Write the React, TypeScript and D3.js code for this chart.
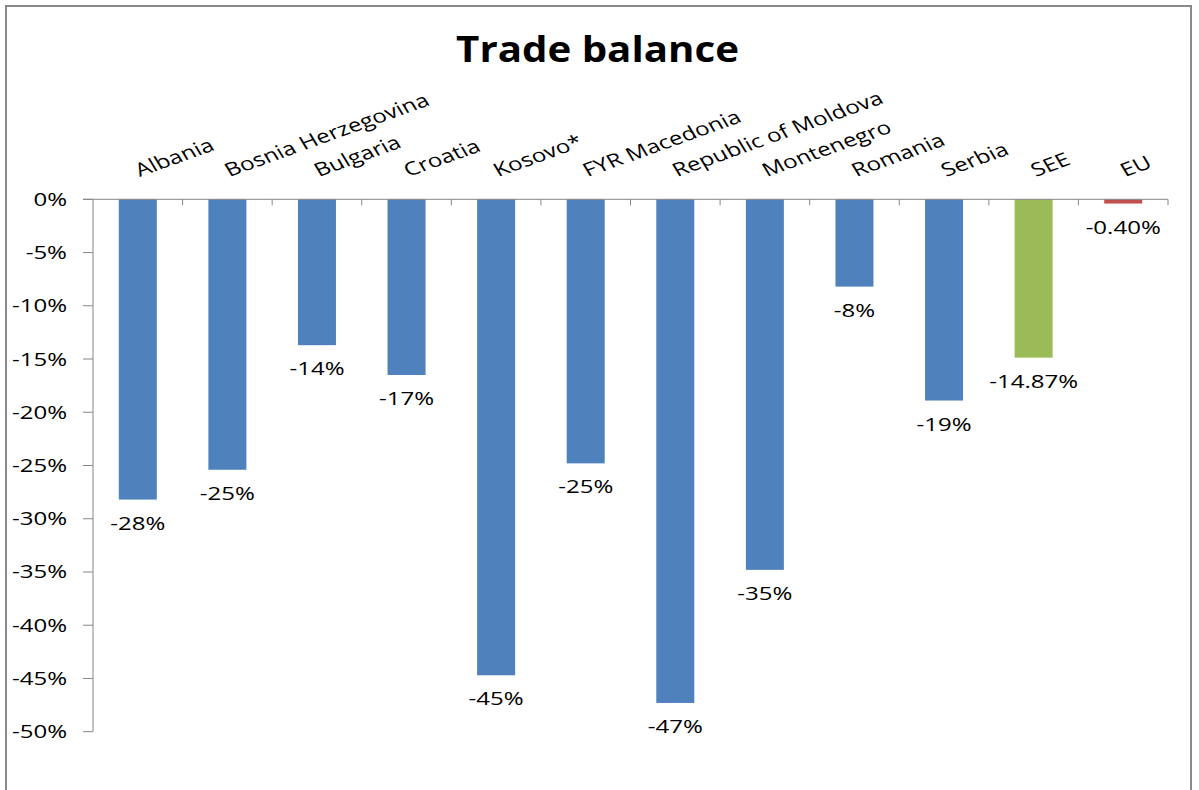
import { useEffect, useRef } from "react";
import * as d3 from "d3";

const countries = [
  "Albania", "Bosnia Herzegovina", "Bulgaria", "Croatia", "Kosovo*", "FYR Macedonia",
  "Republic of Moldova", "Montenegro", "Romania", "Serbia", "SEE", "EU",
];
const balance = [-28.2, -25.4, -13.7, -16.5, -44.7, -24.8, -47.3, -34.8, -8.2, -18.9, -14.87, -0.4];
const valueLabels = ["-28%", "-25%", "-14%", "-17%", "-45%", "-25%", "-47%", "-35%", "-8%", "-19%", "-14.87%", "-0.40%"];
const barColors = [
  "#4F81BD", "#4F81BD", "#4F81BD", "#4F81BD", "#4F81BD", "#4F81BD",
  "#4F81BD", "#4F81BD", "#4F81BD", "#4F81BD", "#9BBB59", "#C0504D",
];
const yTicks = [0, -5, -10, -15, -20, -25, -30, -35, -40, -45, -50];

const W = 1199;
const H = 790;
const FONT = "'Open Sans', sans-serif";
const SX = 1.3; // the picture is stretched sideways

export default function App() {
  const ref = useRef<SVGSVGElement | null>(null);

  useEffect(() => {
    if (!ref.current) return;
    const svg = d3.select(ref.current);
    svg.selectAll("*").remove();

    const left = 93;
    const right = 1168;
    const top = 199.3;
    const bottom = 731.7;

    const x = d3.scaleBand<string>().domain(countries).range([left, right]);
    const y = d3.scaleLinear().domain([0, -50]).range([top, bottom]);
    const barW = 38;

    // outer frame
    svg.append("rect")
      .attr("x", 6).attr("y", 6)
      .attr("width", 1185).attr("height", 800)
      .attr("fill", "#fff")
      .attr("stroke", "#898989")
      .attr("stroke-width", 2);

    svg.append("text")
      .attr("transform", `translate(${W / 2 - 2},62) scale(1.15,1)`)
      .attr("text-anchor", "middle")
      .attr("font-family", FONT)
      .attr("font-weight", 700)
      .attr("font-size", 35)
      .attr("fill", "#000")
      .text("Trade balance");

    // bars
    svg.append("g")
      .selectAll("rect")
      .data(countries)
      .join("rect")
      .attr("x", (d) => x(d)! + x.bandwidth() / 2 - barW / 2)
      .attr("y", y(0))
      .attr("width", barW)
      .attr("height", (_d, i) => y(balance[i]) - y(0))
      .attr("fill", (_d, i) => barColors[i]);

    // y axis
    const axisColor = "#868686";
    svg.append("line")
      .attr("x1", left).attr("x2", left)
      .attr("y1", top).attr("y2", bottom)
      .attr("stroke", axisColor);
    const yt = svg.append("g").selectAll("g").data(yTicks).join("g");
    yt.append("line")
      .attr("x1", left - 10).attr("x2", left)
      .attr("y1", (d) => y(d)).attr("y2", (d) => y(d))
      .attr("stroke", axisColor);
    yt.append("text")
      .attr("transform", (d) => `translate(67,${y(d) + 6.5}) scale(${SX},1)`)
      .attr("text-anchor", "end")
      .attr("font-family", FONT)
      .attr("font-size", 18.5)
      .attr("fill", "#000")
      .text((d) => `${d}%`);

    // category axis at zero
    svg.append("line")
      .attr("x1", left - 10).attr("x2", right)
      .attr("y1", top).attr("y2", top)
      .attr("stroke", axisColor);
    svg.append("g")
      .selectAll("line")
      .data(countries.slice(1).concat(["end"]))
      .join("line")
      .attr("x1", (_d, i) => x(countries[0])! + x.bandwidth() * (i + 1))
      .attr("x2", (_d, i) => x(countries[0])! + x.bandwidth() * (i + 1))
      .attr("y1", top).attr("y2", top + 6)
      .attr("stroke", axisColor);

    // category labels
    svg.append("g")
      .selectAll("text")
      .data(countries)
      .join("text")
      .attr("transform", (d) => `translate(${x(d)! + x.bandwidth() / 2 + 2},177) scale(${SX},1) rotate(-25)`)
      .attr("font-family", FONT)
      .attr("font-size", 18.6)
      .attr("fill", "#000")
      .text((d) => d);

    // value labels
    svg.append("g")
      .selectAll("text")
      .data(countries)
      .join("text")
      .attr("transform", (d, i) => `translate(${x(d)! + x.bandwidth() / 2},${y(balance[i]) + 30}) scale(${SX},1)`)
      .attr("text-anchor", "middle")
      .attr("font-family", FONT)
      .attr("font-size", 18.5)
      .attr("fill", "#000")
      .text((_d, i) => valueLabels[i]);
  }, []);

  return (
    <svg
      ref={ref}
      width={W}
      height={H}
      style={{ position: "absolute", left: 0, top: 0, background: "#fff" }}
    />
  );
}
